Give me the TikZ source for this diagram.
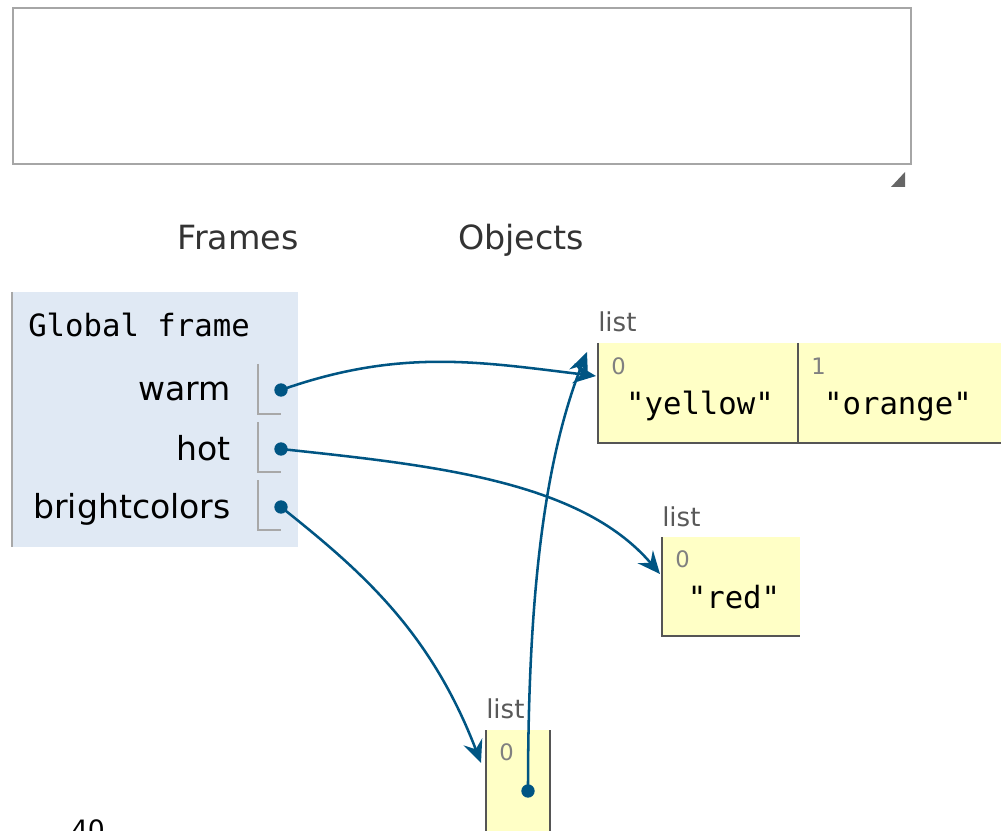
\documentclass[tikz,border=0pt]{standalone}
\usepackage{fontspec}
\setmainfont{DejaVu Sans}
\setmonofont{DejaVu Sans Mono}
\usetikzlibrary{arrows.meta}
\definecolor{ptblue}{HTML}{005583}
\definecolor{framefill}{HTML}{E0E9F4}
\definecolor{listfill}{HTML}{FFFFC6}
\definecolor{cellline}{HTML}{555555}
\definecolor{slotline}{HTML}{A8A8A8}
\definecolor{idxgray}{HTML}{808080}
\tikzset{
  heading/.style={anchor=base, inner sep=0pt, text=black!80, font=\fontsize{25}{30}\selectfont},
  varname/.style={anchor=base east, inner sep=0pt, font=\fontsize{24.8}{29}\selectfont},
  cellval/.style={anchor=base, inner sep=0pt, font=\ttfamily\fontsize{23}{27}\selectfont},
  cellidx/.style={anchor=base west, inner sep=0pt, text=idxgray, font=\fontsize{17}{20}\selectfont},
  listlbl/.style={anchor=base west, inner sep=0pt, text=black!65, font=\fontsize{19.5}{23}\selectfont},
  ptrdot/.style={circle, fill=ptblue, inner sep=0pt, minimum size=10pt},
  ptr/.style={ptblue, line width=1.9pt, -{Stealth[length=17pt, width=15pt, inset=6pt]}},
}
\begin{document}
\begin{tikzpicture}[x=0.75pt, y=-0.75pt]
	\useasboundingbox (0,0) rectangle (1001,831);
	% Paths, nodes and wires:
	% text box at the top
	\draw[draw=black!35, line width=1.5pt] (13,8) rectangle (911,164);
	\fill[black!60] (905,172) -- (905,187) -- (891,187) -- cycle;
	\node[heading] (frames) at (238,250) {Frames};
	\node[heading] (objects) at (521,250) {Objects};
	% global frame
	\fill[framefill] (12,292) rectangle (298,547);
	\draw[slotline, line width=1.5pt] (12,292) -- (12,547);
	\node[anchor=base west, inner sep=0pt, font=\ttfamily\fontsize{23}{27}\selectfont] (gframe) at (28,337) {Global frame};
	\node[varname] (warm) at (231,401) {warm};
	\node[varname] (hot) at (231,460) {hot};
	\node[varname] (bright) at (231,518) {brightcolors};
	\foreach \y in {364,422,480}
		\draw[slotline, line width=1pt] (258,\y) -- (258,\y+50) -- (281,\y+50);
	\node[ptrdot] (pwarm) at (281,390) {};
	\node[ptrdot] (phot) at (281,449) {};
	\node[ptrdot] (pbright) at (281,507) {};
	% list ["yellow", "orange"]
	\fill[listfill] (598,343) rectangle (1001,443);
	\draw[cellline, line width=1.2pt] (598,343) -- (598,443) -- (1001,443) (798,343) -- (798,443);
	\coordinate (lsta) at (596,376);
	\node[listlbl] (lbla) at (598,332) {list};
	\node[cellidx] (ia0) at (611,374) {0};
	\node[cellidx] (ia1) at (811,374) {1};
	\node[cellval] (va0) at (700,415) {"yellow"};
	\node[cellval] (va1) at (898,415) {"orange"};
	% list ["red"]
	\fill[listfill] (662,537) rectangle (800,636);
	\draw[cellline, line width=1.2pt] (662,537) -- (662,636) -- (800,636);
	\coordinate (lstr) at (660,574);
	\node[listlbl] (lblr) at (662,526) {list};
	\node[cellidx] (ir0) at (675,567) {0};
	\node[cellval] (vr0) at (734,608) {"red"};
	% list [warm]
	\fill[listfill] (486,730) rectangle (550,831);
	\draw[cellline, line width=1.2pt] (486,730) -- (486,831) (550,730) -- (550,831);
	\coordinate (lstc) at (481,763);
	\node[listlbl] (lblc) at (486,718) {list};
	\node[cellidx] (ic0) at (499,760) {0};
	\node[ptrdot] (pc0) at (528,791) {};
	% pointers
	\draw[ptr] (pwarm.center) .. controls (400,348) and (480,362) .. (lsta);
	\draw[ptr] (phot.center) .. controls (430,465) and (580,480) .. (lstr);
	\draw[ptr] (pbright.center) .. controls (360,570) and (430,630) .. (lstc);
	\draw[ptr] (pc0.center) .. controls (528,620) and (540,470) .. (587,352);
	% page number
	\node[anchor=north, inner sep=0pt, font=\fontsize{20}{24}\selectfont] (pagenum) at (88,819) {40};
\end{tikzpicture}
\end{document}
